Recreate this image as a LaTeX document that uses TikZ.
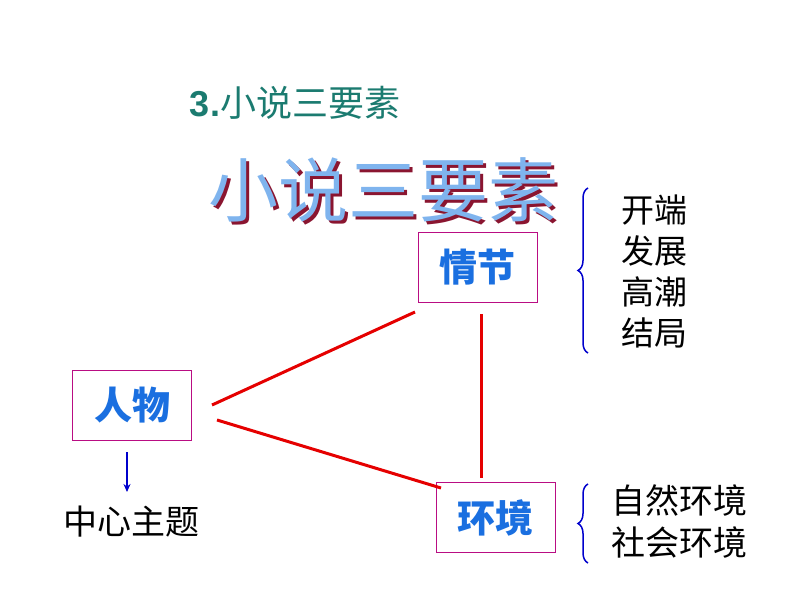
\documentclass[tikz,border=0pt]{standalone}
\usepackage{fontspec}
\newfontfamily\cjk{Noto Sans CJK SC}
\newfontfamily\lib{Liberation Sans}
\usetikzlibrary{decorations.pathreplacing,arrows.meta}
\definecolor{teal1}{HTML}{1B7B70}
\definecolor{bl}{HTML}{1A6FE0}
\definecolor{lb}{HTML}{7FB4EE}
\definecolor{sh}{HTML}{8A1530}
\tikzset{
 bx/.style={draw=sh!60!magenta, line width=0.8pt, minimum width=119pt, minimum height=70pt, text=bl, font=\cjk\bfseries\fontsize{38}{40}\selectfont},
 rl/.style={draw=red!90!black, line width=3pt},
 lst/.style={font=\cjk\fontsize{33}{41}\selectfont, align=center},
 br/.style={draw=blue!80!black, line width=1.5pt, decorate, decoration={brace, amplitude=10pt}}
}
\begin{document}
\begin{tikzpicture}[x=1pt,y=-1pt]
\useasboundingbox (0,0) rectangle (794,596);
\node (title) at (295,103) {\textcolor{teal1}{\lib\bfseries\fontsize{36}{40}\selectfont 3.}\textcolor{teal1}{\cjk\fontsize{36}{40}\selectfont 小说三要素}};
\node[text=sh, font=\cjk\fontsize{70}{76}\selectfont] (bigs) at (386,193) {小说三要素};
\node[text=lb, font=\cjk\fontsize{70}{76}\selectfont] (big) at (383,190) {小说三要素};
\node[bx] (qj) at (477.5,267) {情节};
\node[bx] (rw) at (132,405) {人物};
\node[bx] (hj) at (495.5,517.5) {环境};
\coordinate (a1) at (212,405); \coordinate (a2) at (415,312);
\coordinate (b1) at (217,420); \coordinate (b2) at (441,488);
\coordinate (c1) at (481,314); \coordinate (c2) at (481,478);
\draw[rl] (a1) -- (a2);
\draw[rl] (b1) -- (b2);
\draw[rl] (c1) -- (c2);
\coordinate (ar1) at (127,452); \coordinate (ar2) at (127,492);
\draw[blue!80!black, line width=1.5pt, -{Stealth[length=8pt,width=7pt]}] (ar1) -- (ar2);
\node[lst, font=\cjk\fontsize{34}{40}\selectfont] (zx) at (131,522) {中心主题};
\coordinate (p1) at (588,188); \coordinate (p2) at (588,353);
\draw[br] (p2) -- (p1);
\node[lst, anchor=west] (kd) at (618,271) {开端\\发展\\高潮\\结局};
\coordinate (q1) at (588,484); \coordinate (q2) at (588,563);
\draw[br] (q2) -- (q1);
\node[lst, anchor=west, font=\cjk\fontsize{34}{42}\selectfont] (zr) at (608,521) {自然环境\\社会环境};
\end{tikzpicture}
\end{document}
